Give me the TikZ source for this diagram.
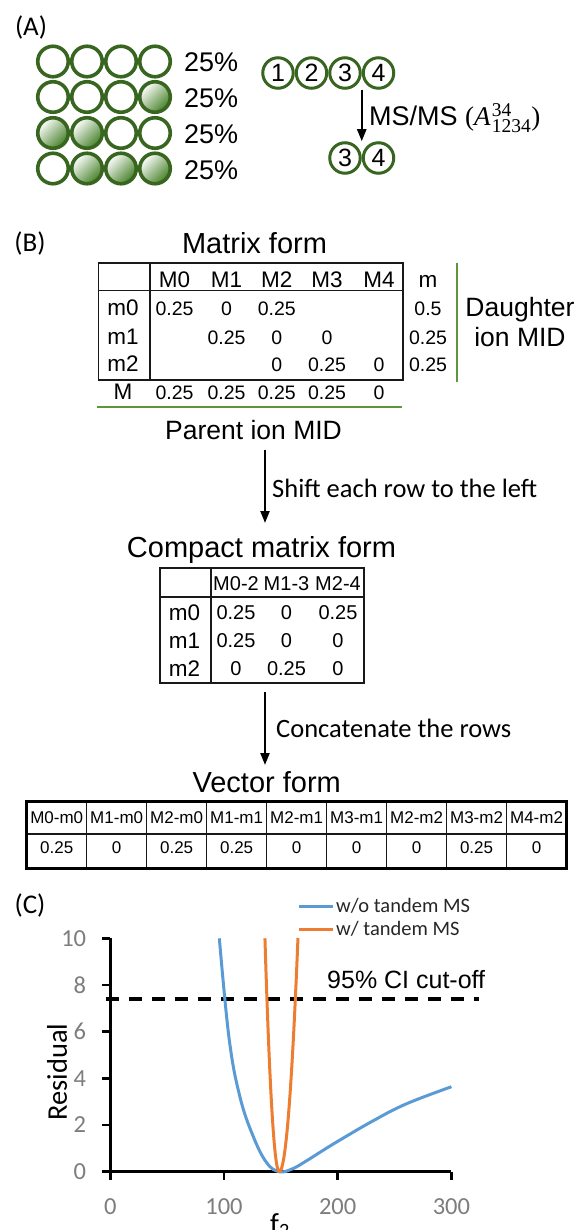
\RequirePackage{fix-cm}
\documentclass[tikz,border=0pt]{standalone}
\usepackage{fontspec}
\setmainfont{Liberation Sans}
\newfontfamily\calfont{Carlito}
\newfontfamily\srf{Liberation Serif}
\usetikzlibrary{arrows.meta}
\definecolor{ringgreen}{RGB}{56,102,32}
\definecolor{fillgreen}{RGB}{68,128,38}
\definecolor{linegreen}{RGB}{95,150,60}
\definecolor{xlblue}{RGB}{91,155,213}
\definecolor{xlorange}{RGB}{237,125,49}
\definecolor{tickgray}{RGB}{125,125,125}
\newcommand\fs[1]{\fontsize{#1}{#1}\selectfont}
\begin{document}
\begin{tikzpicture}[x=1pt,y=-1pt,
  every node/.style={inner sep=0pt},
  ring/.style={circle, draw=ringgreen, line width=3.6pt, minimum size=30.5pt, fill=white},
  shaded/.style={circle, draw=ringgreen, line width=3.6pt, minimum size=30.5pt, top color=white, bottom color=fillgreen, shading angle=45},
  numring/.style={circle, draw=ringgreen, line width=3pt, minimum size=30.5pt, font=\fs{25}},
  pct/.style={anchor=west, font=\fs{27}},
  ttl/.style={font=\fs{29}},
  hdr/.style={font=\fs{22.5}},
  val/.style={font=\fs{19.5}},
  chdr/.style={font=\fs{20}},
  vtx/.style={font=\fs{17}},
  tbl/.style={draw=black!90, line width=1.8pt},
  tthin/.style={draw=black!90, line width=1.2pt},
  tthick/.style={draw=black, line width=3pt},
  gline/.style={draw=linegreen, line width=2.5pt},
  arr/.style={draw=black, line width=2.2pt, -{Triangle[length=12pt,width=9pt]}},
  cal/.style={font=\calfont\fs{26.5}},
  panel/.style={font=\calfont\fs{27}},
  ticklab/.style={font=\calfont\fs{24.5}, text=tickgray},
  axisln/.style={draw=black, line width=2.7pt},
  curve/.style={line width=3pt, line join=round},
  ]
\useasboundingbox (0,0) rectangle (579,1230);

% ---------- Panel A ----------
\node[panel] (lA) at (31,28) {(A)};
\foreach \s [count=\i] in {ring,ring,ring,ring}
  \node[\s] (r1c\i) at ({53+34*(\i-1)},61.5) {};
\foreach \s [count=\i] in {ring,ring,ring,shaded}
  \node[\s] (r2c\i) at ({53+34*(\i-1)},97) {};
\foreach \s [count=\i] in {shaded,shaded,ring,ring}
  \node[\s] (r3c\i) at ({53+34*(\i-1)},133) {};
\foreach \s [count=\i] in {ring,shaded,shaded,shaded}
  \node[\s] (r4c\i) at ({53+34*(\i-1)},168.5) {};
\node[pct] (p1) at (184,62.5) {25\%};
\node[pct] (p2) at (184,98.5) {25\%};
\node[pct] (p3) at (184,134.5) {25\%};
\node[pct] (p4) at (184,170) {25\%};

\foreach \n/\x in {1/278,2/311.5,3/345,4/378.5}
  \node[numring] (t\n) at (\x,73) {\n};
\node[numring] (b3) at (345,158) {3};
\node[numring] (b4) at (378.5,158) {4};
\draw[arr] (t3.east |- t3.south) -- (b3.east |- b3.north);
\node[anchor=west, font=\fs{27}] (ms) at (369,118) {MS/MS {\srf(\textit{A}\kern1pt$^{\mbox{\srf\fs{19.5}34}}_{\mbox{\srf\fs{19.5}1234}}$)}};

% ---------- Panel B ----------
\node[panel] (lB) at (30,243) {(B)};
\node[ttl] (mf) at (254.5,243) {Matrix form};
\draw[tbl] (98.5,263) rectangle (403,380);
\draw[tbl] (98.5,290.5) -- (403,290.5);
\draw[tbl] (150,263) -- (150,380);
\foreach \t/\x [count=\i from 0] in {M0/174.6,M1/226.6,M2/276.8,M3/327,M4/379}
  \node[hdr] (mh\i) at (\x,280) {\t};
\node[hdr] (mhm) at (428,281) {m};
\node[hdr] (rl0) at (123,308) {m0};
\node[hdr] (rl1) at (123,337) {m1};
\node[hdr] (rl2) at (123,364) {m2};
\node[hdr] (rlM) at (123,392) {M};
\node[val] (v00) at (174.6,309) {0.25};
\node[val] (v01) at (226.6,309) {0};
\node[val] (v02) at (276.8,309) {0.25};
\node[val] (v11) at (226.6,338) {0.25};
\node[val] (v12) at (276.8,338) {0};
\node[val] (v13) at (327,338) {0};
\node[val] (v22) at (276.8,365) {0};
\node[val] (v23) at (327,365) {0.25};
\node[val] (v24) at (379,365) {0};
\foreach \t/\x [count=\i from 0] in {0.25/174.6,0.25/226.6,0.25/276.8,0.25/327,0/379}
  \node[val] (vM\i) at (\x,393) {\t};
\node[val] (sm0) at (428,309) {0.5};
\node[val] (sm1) at (428,338) {0.25};
\node[val] (sm2) at (428,365) {0.25};
\draw[gline] (97,407) -- (402,407);
\draw[gline] (457,263) -- (457,382);
\node[font=\fs{26.5}] (dau1) at (520,310) {Daughter};
\node[font=\fs{26.5}] (dau2) at (520,337) {ion MID};
\node[font=\fs{26.5}] (pim) at (253.5,430) {Parent ion MID};

\coordinate (a1s) at (265,450);
\coordinate (a1e) at (265,523);
\draw[arr] (a1s) -- (a1e);
\node[cal, anchor=west] (shift) at (272,488) {Shift each row to the left};

\node[ttl] (cmf) at (261.5,550) {Compact matrix form};
\draw[tbl] (159.7,567.7) rectangle (364,682.7);
\draw[tbl] (159.7,596.7) -- (364,596.7);
\draw[tbl] (210.6,567.7) -- (210.6,682.7);
\node[chdr] (ch0) at (236,584) {M0-2};
\node[chdr] (ch1) at (286.5,584) {M1-3};
\node[chdr] (ch2) at (338,584) {M2-4};
\node[hdr] (cr0) at (184.6,613) {m0};
\node[hdr] (cr1) at (184.6,641) {m1};
\node[hdr] (cr2) at (184.6,669) {m2};
\node[chdr] (c00) at (236,613) {0.25};
\node[chdr] (c01) at (286.5,613) {0};
\node[chdr] (c02) at (338,613) {0.25};
\node[chdr] (c10) at (236,641) {0.25};
\node[chdr] (c11) at (286.5,641) {0};
\node[chdr] (c12) at (338,641) {0};
\node[chdr] (c20) at (236,669) {0};
\node[chdr] (c21) at (286.5,669) {0.25};
\node[chdr] (c22) at (338,669) {0};

\coordinate (a2s) at (265,692);
\coordinate (a2e) at (265,765);
\draw[arr] (a2s) -- (a2e);
\node[cal, anchor=west] (concat) at (276,728) {Concatenate the rows};

\node[ttl] (vf) at (266.7,782) {Vector form};
\foreach \i in {1,...,8}
  \draw[tthin] ({26.7+59.98*\i},801.7) -- ({26.7+59.98*\i},868);
\draw[tthin] (26.7,834) -- (566.5,834);
\draw[tthick] (26.7,801.7) rectangle (566.5,868);
\foreach \t/\v [count=\i from 0] in {M0-m0/0.25,M1-m0/0,M2-m0/0.25,M1-m1/0.25,M2-m1/0,M3-m1/0,M2-m2/0,M3-m2/0.25,M4-m2/0} {
  \node[vtx] (vh\i) at ({56.7+59.98*\i},817.5) {\t};
  \node[vtx] (vv\i) at ({56.7+59.98*\i},847.5) {\v};
}

% ---------- Panel C ----------
\node[panel] (lC) at (30,905) {(C)};
\coordinate (lg1a) at (299,906); \coordinate (lg1b) at (332.5,906);
\coordinate (lg2a) at (299,929); \coordinate (lg2b) at (332.5,929);
\draw[curve, xlblue] (lg1a) -- (lg1b);
\draw[curve, xlorange] (lg2a) -- (lg2b);
\node[anchor=west, font=\calfont\fs{20.5}, text=black!85] (lgt1) at (336,906) {w/o tandem MS};
\node[anchor=west, font=\calfont\fs{20.5}, text=black!85] (lgt2) at (336,929) {w/ tandem MS};

\begin{scope}[shift={(110.3,1171.7)}, x=1.137pt, y=23.34pt]
  \draw[axisln] (0,10) -- (0,0) -- (300,0);
  \foreach \v in {0,2,...,10} {
    \draw[axisln] (0,\v) -- ++(-8pt,0);
    \node[ticklab, anchor=east] at ([xshift=-24pt]0,\v) {\v};
  }
  \foreach \v in {0,100,200,300} {
    \draw[axisln] (\v,0) -- ++(0,-8.5pt);
    \node[ticklab] at ([yshift=-35pt]\v,0) {\v};
  }
  \draw[line width=3.5pt, dash pattern=on 13pt off 10pt] (-3.8,7.4) -- (324,7.4);
  \draw[curve, xlblue] plot[smooth, tension=0.65] coordinates {(95.9,10) (104.5,5.7) (114,3.21) (125.8,1.5) (137.6,0.38) (148.6,0) (160,0.12) (172,0.45) (185,0.85) (200,1.3) (230,2.15) (260,2.9) (300,3.64)};
  \draw[curve, xlorange] plot[domain=136.0:148.6, samples=30] (\x,{0.063*(\x-148.6)^2}) -- plot[domain=148.6:165.05, samples=30] (\x,{0.037*(\x-148.6)^2});
\end{scope}
\node[anchor=west, font=\fs{25}] (ci) at (327,980) {95\% CI cut-off};
\node[rotate=90, font=\calfont\fs{28.5}] (resid) at (57,1072) {Residual};
\node[anchor=base, font=\calfont\fs{29}] (f2) at (280,1233) {f\textsubscript{2}};
\end{tikzpicture}
\end{document}
